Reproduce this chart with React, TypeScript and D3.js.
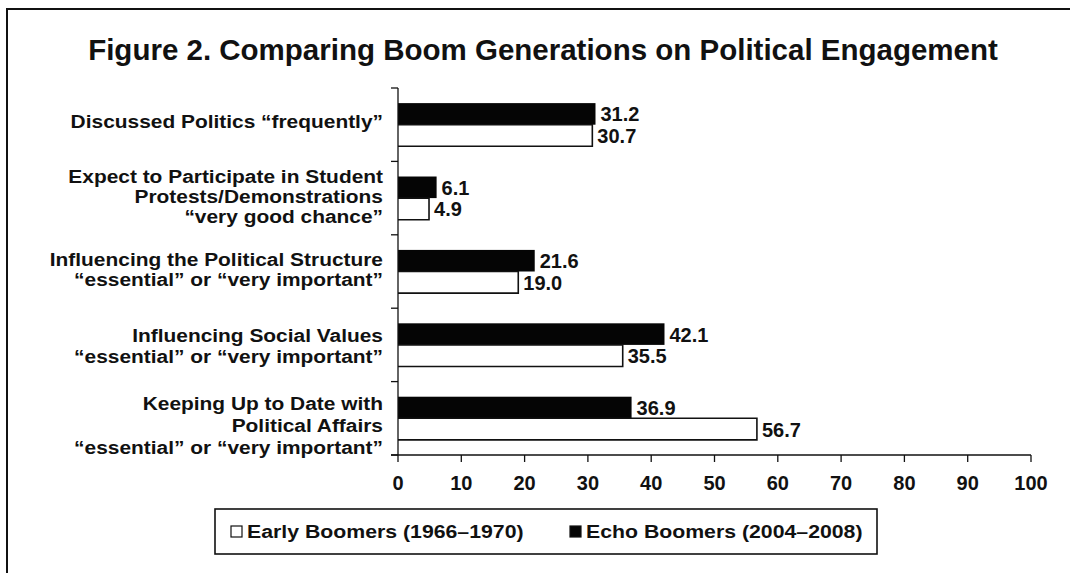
import React, { useEffect } from "react";
import * as d3 from "d3";

const categories = [
  "Discussed Politics “frequently”",
  "Expect to Participate in Student\nProtests/Demonstrations\n“very good chance”",
  "Influencing the Political Structure\n“essential” or “very important”",
  "Influencing Social Values\n“essential” or “very important”",
  "Keeping Up to Date with\nPolitical Affairs\n“essential” or “very important”",
];
const echoValues = [31.2, 6.1, 21.6, 42.1, 36.9];
const earlyValues = [30.7, 4.9, 19.0, 35.5, 56.7];
const xTicks = [0, 10, 20, 30, 40, 50, 60, 70, 80, 90, 100];
const seriesKeys = ["echo", "early"];
const legendLabels = ["Early Boomers (1966–1970)", "Echo Boomers (2004–2008)"];
const title = "Figure 2. Comparing Boom Generations on Political Engagement";

// layout-only tweaks for the category label blocks
const labelNudge = [-3, -1.5, -2, 2, 8];
const labelLineH = [21, 20, 20, 21, 22];

const W = 1070;
const H = 573;
const FONT = "'Liberation Sans', Arial, Helvetica, sans-serif";
const INK = "#111";

function SText(props: any) {
  const { x, y, sx = 1, size, anchor = "start", children } = props;
  return (
    <text
      transform={`translate(${x},${y}) scale(${sx},1)`}
      textAnchor={anchor}
      fontFamily={FONT}
      fontWeight="bold"
      fontSize={size}
      fill={INK}
    >
      {children}
    </text>
  );
}

export default function App() {
  useEffect(() => {
    document.body.style.margin = "0";
  }, []);

  const x = d3.scaleLinear().domain([0, 100]).range([398, 1031]);
  const y = d3.scaleBand<number>().domain(d3.range(categories.length)).range([88, 455]).padding(0);
  const bw = y.bandwidth();
  const inner = d3.scaleBand<string>().domain(seriesKeys).range([0, bw]).paddingInner(0).paddingOuter(0.7);
  const barH = inner.bandwidth();
  const axisY = 455;
  const axisX = x(0);
  const boundaries = d3.range(categories.length + 1).map((i) => 88 + i * bw);

  const legendX = 215;
  const legendY = 509;
  const legendW = 662;
  const legendH = 45;
  const legendItemX = [231, 570];

  return (
    <svg width={W} height={H} style={{ display: "block" }}>
      <rect x={0} y={0} width={W} height={H} fill="#fff" />
      {/* frame */}
      <path d={`M7,${H} V9 H${W}`} fill="none" stroke={INK} strokeWidth={2} />

      {/* title */}
      <SText x={543} y={60} sx={1.0} size={29.5} anchor="middle">
        {title}
      </SText>

      {/* bars */}
      {categories.map((c, i) => {
        const y0 = y(i)!;
        const vals = [echoValues[i], earlyValues[i]];
        return (
          <g key={i}>
            {seriesKeys.map((k, j) => {
              const by = y0 + inner(k)!;
              const v = vals[j];
              return (
                <g key={k}>
                  {k === "echo" ? (
                    <rect x={axisX} y={by} width={x(v) - axisX} height={barH} fill="#050505" />
                  ) : (
                    <path
                      d={`M${axisX},${by} H${x(v)} V${by + barH} H${axisX}`}
                      fill="#fff"
                      stroke={INK}
                      strokeWidth={1.6}
                    />
                  )}
                  <SText x={x(v) + 5} y={by + barH / 2 + 7.5} sx={1.0} size={20}>
                    {v.toFixed(1)}
                  </SText>
                </g>
              );
            })}
          </g>
        );
      })}

      {/* y axis */}
      <line x1={axisX} x2={axisX} y1={88} y2={axisY} stroke={INK} strokeWidth={1.3} />
      {boundaries.map((b, i) => (
        <line key={i} x1={axisX - 7} x2={axisX} y1={b} y2={b} stroke={INK} strokeWidth={1.3} />
      ))}
      {/* x axis */}
      <line x1={axisX - 7} x2={x(100)} y1={axisY} y2={axisY} stroke={INK} strokeWidth={1.6} />
      {xTicks.map((t) => (
        <g key={t}>
          <line x1={x(t)} x2={x(t)} y1={axisY} y2={axisY + 7} stroke={INK} strokeWidth={1.3} />
          <SText x={x(t)} y={490} sx={1.0} size={20} anchor="middle">
            {t}
          </SText>
        </g>
      ))}

      {/* category labels */}
      {categories.map((c, i) => {
        const lines = c.split("\n");
        const cy = y(i)! + bw / 2 + labelNudge[i];
        const lh = labelLineH[i];
        return (
          <g key={i}>
            {lines.map((ln, k) => (
              <SText
                key={k}
                x={383}
                y={cy + (k - (lines.length - 1) / 2) * lh + 6}
                sx={1.1}
                size={19}
                anchor="end"
              >
                {ln}
              </SText>
            ))}
          </g>
        );
      })}

      {/* legend */}
      <rect x={legendX} y={legendY} width={legendW} height={legendH} fill="none" stroke={INK} strokeWidth={1.6} />
      {legendLabels.map((l, i) => (
        <g key={i}>
          <rect
            x={legendItemX[i]}
            y={526}
            width={11}
            height={11}
            fill={i === 0 ? "#fff" : "#050505"}
            stroke={INK}
            strokeWidth={1.2}
          />
          <SText x={legendItemX[i] + 16} y={538} sx={1.15} size={18.5}>
            {l}
          </SText>
        </g>
      ))}
    </svg>
  );
}
